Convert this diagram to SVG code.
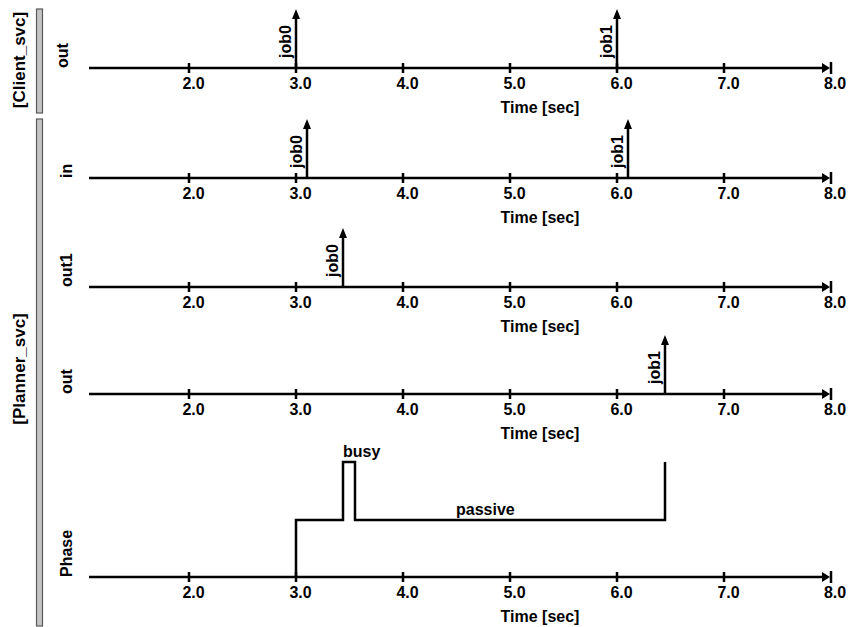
<svg xmlns="http://www.w3.org/2000/svg" width="851" height="627" viewBox="0 0 851 627">
<style>
text{font-family:"Liberation Sans",Arial,sans-serif;font-weight:bold;font-size:16px;fill:#000}
.tk{text-anchor:middle}
.tl{text-anchor:middle}
.grp{font-size:17px;text-anchor:middle}
.ln{stroke:#000;stroke-width:2.5;fill:none}
.tick{stroke:#000;stroke-width:2.5}
.hd{fill:#000}
.bar{fill:#c4c4c4;stroke:#5a5a5a;stroke-width:1.2}
</style>
<rect width="851" height="627" fill="#fff"/>
<g id="groups">
<g id="client_svc">
<rect class="bar" x="36.5" y="9" width="6" height="104"/>
<text class="grp" transform="translate(25,60) rotate(-90)">[Client_svc]</text>
</g>
<g id="planner_svc">
<rect class="bar" x="36.5" y="119" width="6" height="507"/>
<text class="grp" transform="translate(25,369) rotate(-90)">[Planner_svc]</text>
</g>
</g>
<g id="axes">
<g id="axis_client_out">
<text transform="translate(68,68) rotate(-90)">out</text>
<line class="ln" x1="89" y1="68" x2="826" y2="68"/>
<polygon class="hd" points="822,63 830,68 822,73"/>
<line class="tick" x1="831" y1="62" x2="831" y2="74"/>
<path class="tick" d="M189,63V73M296,63V73M403,63V73M510,63V73M617,63V73M724,63V73"/>
<text class="tk" x="193.5" y="89">2.0</text><text class="tk" x="300.5" y="89">3.0</text><text class="tk" x="407.5" y="89">4.0</text><text class="tk" x="514.5" y="89">5.0</text><text class="tk" x="621.5" y="89">6.0</text><text class="tk" x="728.5" y="89">7.0</text><text class="tk" x="835" y="89">8.0</text>
<text class="tl" x="540" y="113">Time [sec]</text>
</g>
<g id="axis_planner_in">
<text transform="translate(72,178) rotate(-90)">in</text>
<line class="ln" x1="89" y1="178" x2="826" y2="178"/>
<polygon class="hd" points="822,173 830,178 822,183"/>
<line class="tick" x1="831" y1="172" x2="831" y2="184"/>
<path class="tick" d="M189,173V183M296,173V183M403,173V183M510,173V183M617,173V183M724,173V183"/>
<text class="tk" x="193.5" y="199">2.0</text><text class="tk" x="300.5" y="199">3.0</text><text class="tk" x="407.5" y="199">4.0</text><text class="tk" x="514.5" y="199">5.0</text><text class="tk" x="621.5" y="199">6.0</text><text class="tk" x="728.5" y="199">7.0</text><text class="tk" x="835" y="199">8.0</text>
<text class="tl" x="540" y="223">Time [sec]</text>
</g>
<g id="axis_planner_out1">
<text transform="translate(72,287) rotate(-90)">out1</text>
<line class="ln" x1="89" y1="287" x2="826" y2="287"/>
<polygon class="hd" points="822,282 830,287 822,292"/>
<line class="tick" x1="831" y1="281" x2="831" y2="293"/>
<path class="tick" d="M189,282V292M296,282V292M403,282V292M510,282V292M617,282V292M724,282V292"/>
<text class="tk" x="193.5" y="308">2.0</text><text class="tk" x="300.5" y="308">3.0</text><text class="tk" x="407.5" y="308">4.0</text><text class="tk" x="514.5" y="308">5.0</text><text class="tk" x="621.5" y="308">6.0</text><text class="tk" x="728.5" y="308">7.0</text><text class="tk" x="835" y="308">8.0</text>
<text class="tl" x="540" y="332">Time [sec]</text>
</g>
<g id="axis_planner_out">
<text transform="translate(72,394) rotate(-90)">out</text>
<line class="ln" x1="89" y1="394" x2="826" y2="394"/>
<polygon class="hd" points="822,389 830,394 822,399"/>
<line class="tick" x1="831" y1="388" x2="831" y2="400"/>
<path class="tick" d="M189,389V399M296,389V399M403,389V399M510,389V399M617,389V399M724,389V399"/>
<text class="tk" x="193.5" y="415">2.0</text><text class="tk" x="300.5" y="415">3.0</text><text class="tk" x="407.5" y="415">4.0</text><text class="tk" x="514.5" y="415">5.0</text><text class="tk" x="621.5" y="415">6.0</text><text class="tk" x="728.5" y="415">7.0</text><text class="tk" x="835" y="415">8.0</text>
<text class="tl" x="540" y="439">Time [sec]</text>
</g>
<g id="axis_planner_phase">
<text transform="translate(72,577) rotate(-90)">Phase</text>
<line class="ln" x1="89" y1="577" x2="826" y2="577"/>
<polygon class="hd" points="822,572 830,577 822,582"/>
<line class="tick" x1="831" y1="571" x2="831" y2="583"/>
<path class="tick" d="M189,572V582M296,572V582M403,572V582M510,572V582M617,572V582M724,572V582"/>
<text class="tk" x="193.5" y="598">2.0</text><text class="tk" x="300.5" y="598">3.0</text><text class="tk" x="407.5" y="598">4.0</text><text class="tk" x="514.5" y="598">5.0</text><text class="tk" x="621.5" y="598">6.0</text><text class="tk" x="728.5" y="598">7.0</text><text class="tk" x="835" y="598">8.0</text>
<text class="tl" x="540" y="622">Time [sec]</text>
</g>
</g>
<g id="events">
<g id="ev_client_job0"><line class="ln" x1="296" y1="68" x2="296" y2="17"/><polygon class="hd" points="292,19 296,9 300,19"/><text transform="translate(291,58) rotate(-90)">job0</text></g>
<g id="ev_client_job1"><line class="ln" x1="617" y1="68" x2="617" y2="17"/><polygon class="hd" points="613,19 617,9 621,19"/><text transform="translate(612,58) rotate(-90)">job1</text></g>
<g id="ev_in_job0"><line class="ln" x1="307" y1="178" x2="307" y2="127"/><polygon class="hd" points="303,129 307,119 311,129"/><text transform="translate(302,168) rotate(-90)">job0</text></g>
<g id="ev_in_job1"><line class="ln" x1="628" y1="178" x2="628" y2="127"/><polygon class="hd" points="624,129 628,119 632,129"/><text transform="translate(623,168) rotate(-90)">job1</text></g>
<g id="ev_out1_job0"><line class="ln" x1="343" y1="287" x2="343" y2="236"/><polygon class="hd" points="339,238 343,228 347,238"/><text transform="translate(338,277) rotate(-90)">job0</text></g>
<g id="ev_out_job1"><line class="ln" x1="665" y1="394" x2="665" y2="343"/><polygon class="hd" points="661,345 665,335 669,345"/><text transform="translate(660,384) rotate(-90)">job1</text></g>
</g>
<g id="phase">
<path class="ln" d="M296,577V520H343V462H355V520H665V462"/>
<text x="343" y="457">busy</text>
<text x="456" y="515">passive</text>
</g>
</svg>
